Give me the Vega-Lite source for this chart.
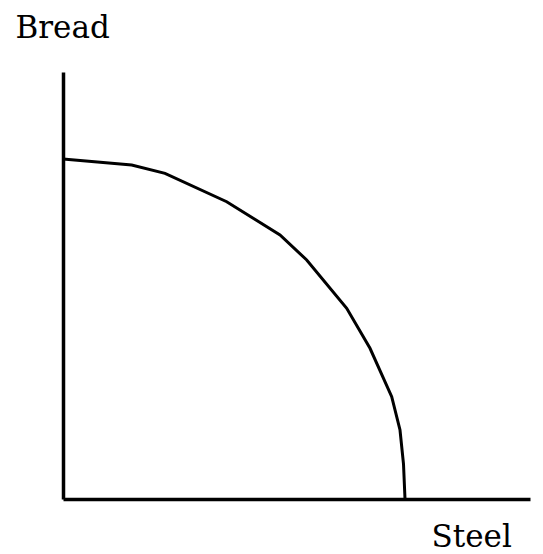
{
  "$schema": "https://vega.github.io/schema/vega-lite/v6.json",
  "width": 467,
  "height": 427,
  "autosize": {"type": "none"},
  "padding": {"left": 63, "top": 72, "right": 13, "bottom": 55},
  "background": "white",
  "config": {"view": {"stroke": null}},
  "data": {
    "values": [
      {"steel": 0, "bread": 340},
      {"steel": 68.7, "bread": 334},
      {"steel": 102, "bread": 325.7},
      {"steel": 163.7, "bread": 297.3},
      {"steel": 217, "bread": 264},
      {"steel": 243.7, "bread": 239},
      {"steel": 283.7, "bread": 190.7},
      {"steel": 307, "bread": 150.7},
      {"steel": 328.7, "bread": 102.3},
      {"steel": 337, "bread": 69},
      {"steel": 340.5, "bread": 35},
      {"steel": 342, "bread": 0}
    ]
  },
  "mark": {"type": "line", "color": "black", "strokeWidth": 3, "interpolate": "linear"},
  "encoding": {
    "x": {
      "field": "steel",
      "type": "quantitative",
      "scale": {"domain": [0, 467], "nice": false, "zero": true},
      "axis": {
        "title": "Steel",
        "labels": false,
        "ticks": false,
        "grid": false,
        "domainColor": "black",
        "domainWidth": 3.5,
        "titleFont": "DejaVu Serif",
        "titleFontSize": 31,
        "titleFontWeight": "normal",
        "titleColor": "black",
        "titleAngle": 0,
        "titleAlign": "left",
        "titleBaseline": "alphabetic",
        "titleX": 368,
        "titleY": 47
      }
    },
    "y": {
      "field": "bread",
      "type": "quantitative",
      "scale": {"domain": [0, 427], "nice": false, "zero": true},
      "axis": {
        "title": "Bread",
        "labels": false,
        "ticks": false,
        "grid": false,
        "domainColor": "black",
        "domainWidth": 3.5,
        "titleFont": "DejaVu Serif",
        "titleFontSize": 31,
        "titleFontWeight": "normal",
        "titleColor": "black",
        "titleAngle": 0,
        "titleAlign": "left",
        "titleBaseline": "alphabetic",
        "titleX": -48,
        "titleY": -35
      }
    }
  }
}
